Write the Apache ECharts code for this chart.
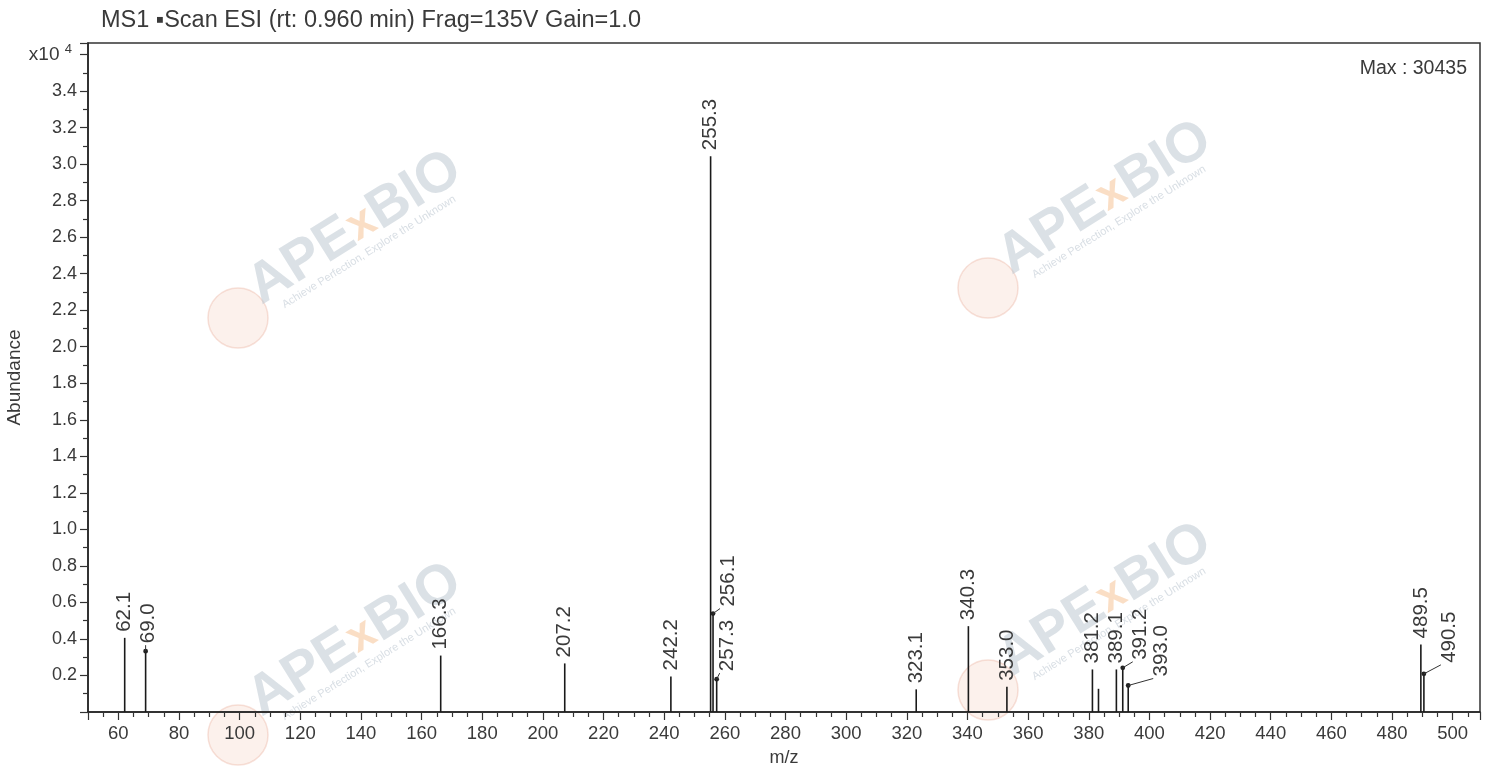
<!DOCTYPE html>
<html>
<head>
<meta charset="utf-8">
<script src="https://cdn.jsdelivr.net/npm/echarts@6/dist/echarts.min.js"></script>
<style>
html,body{margin:0;padding:0;background:#fff;}
#chart{width:1486px;height:769px;}
</style>
</head>
<body>
<div id="chart"></div>
<script>
// ---- data ----
const mz = [62.1, 69.0, 166.3, 207.2, 242.2, 255.3, 256.1, 257.3, 323.1, 340.3, 353.0, 381.2, 383.2, 389.1, 391.2, 393.0, 489.5, 490.5];
const abundance = [4060, 3330, 3090, 2660, 1950, 30435, 5390, 1800, 1240, 4700, 1380, 2330, 1270, 2330, 2420, 1450, 3700, 2090];
const peakLabels = ['62.1', '69.0', '166.3', '207.2', '242.2', '255.3', '256.1', '257.3', '323.1', '340.3', '353.0', '381.2', '', '389.1', '391.2', '393.0', '489.5', '490.5'];
const titleText = 'MS1 \u25AAScan ESI (rt: 0.960 min) Frag=135V Gain=1.0';
const xName = 'm/z';
const yName = 'Abundance';

// ---- label layout (pixel offsets of peak annotations; styling only) ----
const labelLayout = {
  '69.0':  {dx: 3,  dy: -8,  leader: true},
  '256.1': {dx: 15, dy: -7,  leader: true},
  '257.3': {dx: 11, dy: -8,  leader: true},
  '391.2': {dx: 18, dy: -8,  leader: true},
  '393.0': {dx: 33, dy: -9,  leader: true},
  '490.5': {dx: 25, dy: -11, leader: true}
};
const defaultLayout = {dx: 0, dy: -6, leader: false};

const FONT = '"Liberation Sans", Arial, Helvetica, sans-serif';
const TXT = '#3a3a3a';

const seriesData = mz.map((m, i) => [m, abundance[i]]);

function renderPeak(params, api) {
  const x = api.value(0), y = api.value(1);
  const base = api.coord([x, 0]);
  const top = api.coord([x, y]);
  const lab = peakLabels[params.dataIndex];
  const lay = labelLayout[lab] || defaultLayout;
  const children = [{
    type: 'line',
    shape: {x1: base[0], y1: base[1], x2: top[0], y2: top[1]},
    style: {stroke: '#1a1a1a', lineWidth: 1.6}
  }];
  if (lab) {
    const tx = top[0] + lay.dx, ty = top[1] + lay.dy;
    children.push({
      type: 'text', x: tx, y: ty, rotation: Math.PI / 2,
      style: {text: lab, fontSize: 20.5, fontFamily: FONT, fill: TXT, align: 'left', verticalAlign: 'middle'}
    });
    if (lay.leader) {
      children.push({type: 'circle', shape: {cx: top[0], cy: top[1], r: 2.4}, style: {fill: '#222'}});
      children.push({
        type: 'line',
        shape: {x1: top[0], y1: top[1], x2: Math.max(top[0], tx - 8), y2: ty + 2},
        style: {stroke: '#333', lineWidth: 1}
      });
    }
  }
  return {type: 'group', children: children};
}

function watermark(cx, cy, lx, ly) {
  return [
    {
      type: 'circle', silent: true, z: -10,
      shape: {cx: lx, cy: ly, r: 30},
      style: {fill: 'rgba(246,214,200,0.35)', stroke: 'rgba(232,170,150,0.35)', lineWidth: 1.5}
    },
    {
      type: 'text', silent: true, z: -10, x: cx, y: cy, rotation: 0.56,
      style: {
        text: '{a|APE}{x|x}{a|BIO}', align: 'center', verticalAlign: 'middle',
        rich: {
          a: {fontSize: 56, fontWeight: 'bold', fontFamily: FONT, fill: 'rgba(190,200,210,0.55)'},
          x: {fontSize: 46, fontWeight: 'bold', fontFamily: FONT, fill: 'rgba(245,195,150,0.55)'}
        }
      }
    },
    {
      type: 'text', silent: true, z: -10, x: cx + 14, y: cy + 24, rotation: 0.56,
      style: {text: 'Achieve Perfection, Explore the Unknown', align: 'center', verticalAlign: 'middle',
        fontSize: 11, fontFamily: FONT, fill: 'rgba(190,200,210,0.6)'}
    }
  ];
}

const chart = echarts.init(document.getElementById('chart'), null, {renderer: 'canvas'});
const option = {
  animation: false,
  backgroundColor: '#ffffff',
  title: {
    text: titleText, left: 96, top: 4,
    textStyle: {fontSize: 23.5, fontWeight: 'normal', fontFamily: FONT, color: TXT}
  },
  grid: {left: 88, right: 6, top: 43, bottom: 57, show: true, borderColor: '#333', borderWidth: 1.5,
    backgroundColor: 'transparent', containLabel: false, outerBoundsMode: 'none'},
  graphic: [].concat(
    watermark(355, 228, 238, 318),
    watermark(1105, 198, 988, 288),
    watermark(355, 640, 238, 735),
    watermark(1105, 600, 988, 690),
    [{
      type: 'text', silent: true, right: 19, top: 59,
      style: {text: 'Max : ' + Math.max.apply(null, abundance), fontSize: 19.5, fontFamily: FONT, fill: TXT}
    }]
  ),
  xAxis: {
    type: 'value', min: 50, max: 509, splitNumber: 22,
    name: xName, nameLocation: 'middle', nameGap: 37, nameMoveOverlap: false,
    nameTextStyle: {fontSize: 18, fontFamily: FONT, color: TXT},
    axisLine: {show: true, onZero: false, lineStyle: {color: '#222', width: 1.5}},
    axisTick: {show: true, length: 8, lineStyle: {color: '#333', width: 1.2}},
    minorTick: {show: true, splitNumber: 4, length: 5, lineStyle: {color: '#333', width: 1.2}},
    splitLine: {show: false},
    axisLabel: {
      fontSize: 18.5, fontFamily: FONT, color: TXT, margin: 12, showMinLabel: true, showMaxLabel: true,
      formatter: v => (Math.abs(v % 20) < 1e-9 ? String(v) : '')
    }
  },
  yAxis: {
    type: 'value', min: 0, max: 36630, interval: 2000,
    name: yName, nameLocation: 'middle', nameGap: 64, nameMoveOverlap: false,
    nameTextStyle: {fontSize: 19, fontFamily: FONT, color: TXT},
    axisLine: {show: true, lineStyle: {color: '#222', width: 1.5}},
    axisTick: {show: true, length: 8, lineStyle: {color: '#333', width: 1.2}},
    minorTick: {show: true, splitNumber: 2, length: 5, lineStyle: {color: '#333', width: 1.2}},
    splitLine: {show: false},
    axisLabel: {
      fontSize: 18, fontFamily: FONT, color: TXT, margin: 11,
      formatter: v => {
        if (v === 0 || v % 2000 !== 0) return '';
        if (v === 36000) return '{b|x10 }{s|4}';
        return (v / 10000).toFixed(1);
      },
      rich: {
        b: {fontSize: 19, fontFamily: FONT, color: TXT},
        s: {fontSize: 13, fontFamily: FONT, color: TXT, padding: [0, 5, 10, 0]}
      }
    }
  },
  series: [{
    type: 'custom',
    renderItem: renderPeak,
    data: seriesData,
    encode: {x: 0, y: 1},
    z: 5
  }]
};
chart.setOption(option);
</script>
</body>
</html>
